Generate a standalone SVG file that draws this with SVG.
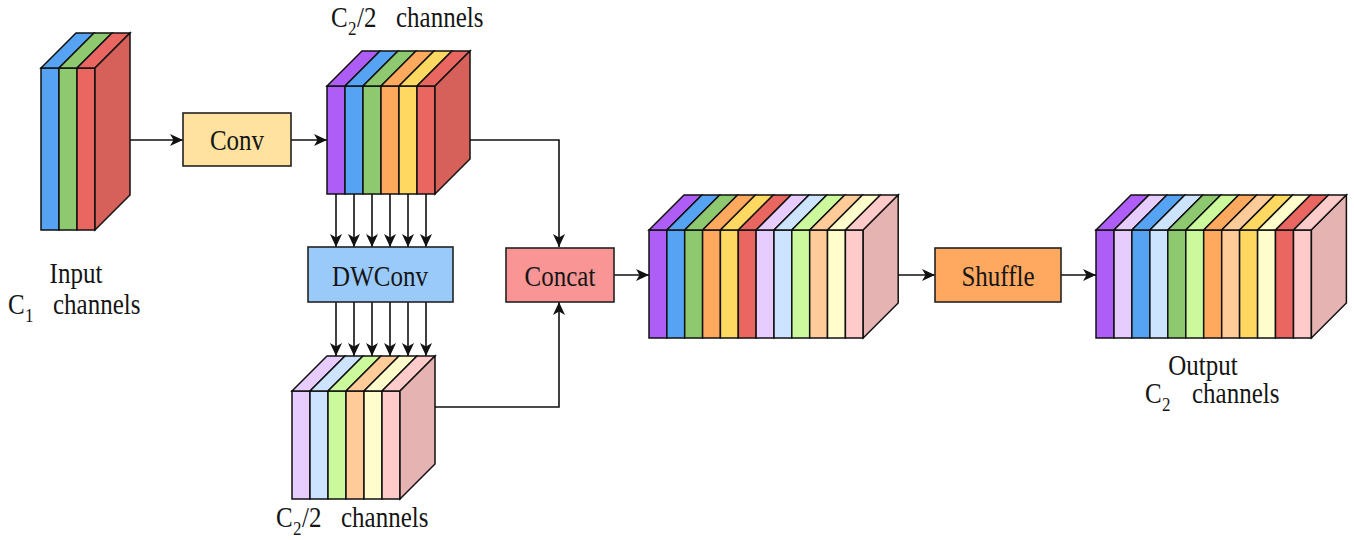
<svg xmlns="http://www.w3.org/2000/svg" width="1354" height="540" viewBox="0 0 1354 540">
  <defs>
    <style>
      .edge { stroke: #111; stroke-width: 1.6; fill: none; }
      .cube polygon, .cube rect { stroke: #111; stroke-width: 1.5; stroke-linejoin: miter; }
      .box { stroke: #222; stroke-width: 1.6; }
      text { font-family: 'Liberation Serif', 'Times New Roman', Times, serif; font-size: 25px; fill: #151515; }
      .sub { font-size: 17px; }
      .pu { fill: #AE5DF6; } .bl { fill: #56A3F3; } .gr { fill: #8FC96F; }
      .or { fill: #FFA95E; } .ye { fill: #FFD862; } .re { fill: #EA6661; }
      .rs { fill: #D6605A; }
      .lpu { fill: #E6CCFF; } .lbu { fill: #CCE4FF; } .lgr { fill: #CBF99B; }
      .lor { fill: #FFCB98; } .lye { fill: #FFFDCC; } .lpk { fill: #FFCACA; }
      .ps { fill: #E5B4B2; }
    </style>
    <marker id="arrow" viewBox="0 0 13 12" refX="13" refY="6" markerWidth="13" markerHeight="12" orient="auto" markerUnits="userSpaceOnUse">
      <path d="M0,0 L13,6 L0,12 L3.5,6 z" fill="#111"/>
    </marker>
  </defs>

  <rect width="1354" height="540" fill="#fff"/>

  <!-- connectors -->
  <g id="connectors" class="edge" marker-end="url(#arrow)">
    <path d="M130,140 H183"/>
    <path d="M291,140 H327"/>
    <path d="M470,140 H559 V247"/>
    <path d="M435,407 H559 V302"/>
    <path d="M614,275 H649"/>
    <path d="M898,275 H935"/>
    <path d="M1061,275 H1096"/>
    <path d="M336,194 V247"/>
    <path d="M354,194 V247"/>
    <path d="M372,194 V247"/>
    <path d="M390,194 V247"/>
    <path d="M408,194 V247"/>
    <path d="M426,194 V247"/>
    <path d="M336,302 V356"/>
    <path d="M354,302 V356"/>
    <path d="M372,302 V356"/>
    <path d="M390,302 V356"/>
    <path d="M408,302 V356"/>
    <path d="M426,302 V356"/>
  </g>

  <!-- input tensor: C1 channels -->
  <g id="input" class="cube">
    <rect class="bl" x="41" y="68" width="18" height="162"/>
    <rect class="gr" x="59" y="68" width="18" height="162"/>
    <rect class="re" x="77" y="68" width="18" height="162"/>
    <polygon class="bl" points="41,68 59,68 94,33 76,33"/>
    <polygon class="gr" points="59,68 77,68 112,33 94,33"/>
    <polygon class="re" points="77,68 95,68 130,33 112,33"/>
    <polygon class="rs" points="95,68 130,33 130,195 95,230"/>
    <text text-anchor="middle" transform="translate(76,283) scale(1,1.15)">Input</text>
    <text transform="translate(0,314) scale(1,1.15)"><tspan x="8">C</tspan><tspan class="sub" x="25" dy="7">1</tspan><tspan x="53" dy="-7">channels</tspan></text>
  </g>

  <!-- Conv -->
  <g id="conv">
    <rect class="box" x="183" y="113" width="108" height="53" fill="#FFE29F"/>
    <text text-anchor="middle" transform="translate(237,150) scale(1,1.15)">Conv</text>
  </g>

  <!-- first half: C2/2 channels -->
  <g id="half-a" class="cube">
    <rect class="pu" x="327" y="86" width="18" height="108"/>
    <rect class="bl" x="345" y="86" width="18" height="108"/>
    <rect class="gr" x="363" y="86" width="18" height="108"/>
    <rect class="or" x="381" y="86" width="18" height="108"/>
    <rect class="ye" x="399" y="86" width="18" height="108"/>
    <rect class="re" x="417" y="86" width="18" height="108"/>
    <polygon class="pu" points="327,86 345,86 380,51 362,51"/>
    <polygon class="bl" points="345,86 363,86 398,51 380,51"/>
    <polygon class="gr" points="363,86 381,86 416,51 398,51"/>
    <polygon class="or" points="381,86 399,86 434,51 416,51"/>
    <polygon class="ye" points="399,86 417,86 452,51 434,51"/>
    <polygon class="re" points="417,86 435,86 470,51 452,51"/>
    <polygon class="rs" points="435,86 470,51 470,159 435,194"/>
    <text transform="translate(0,27) scale(1,1.15)"><tspan x="331">C</tspan><tspan class="sub" x="348" dy="7">2</tspan><tspan x="357" dy="-7">/2</tspan><tspan x="396">channels</tspan></text>
  </g>

  <!-- DWConv -->
  <g id="dwconv">
    <rect class="box" x="308" y="247" width="145" height="55" fill="#99CAFA"/>
    <text text-anchor="middle" transform="translate(380,286) scale(1,1.15)">DWConv</text>
  </g>

  <!-- second half: C2/2 channels -->
  <g id="half-b" class="cube">
    <rect class="lpu" x="292" y="391" width="18" height="108"/>
    <rect class="lbu" x="310" y="391" width="18" height="108"/>
    <rect class="lgr" x="328" y="391" width="18" height="108"/>
    <rect class="lor" x="346" y="391" width="18" height="108"/>
    <rect class="lye" x="364" y="391" width="18" height="108"/>
    <rect class="lpk" x="382" y="391" width="18" height="108"/>
    <polygon class="lpu" points="292,391 310,391 345,356 327,356"/>
    <polygon class="lbu" points="310,391 328,391 363,356 345,356"/>
    <polygon class="lgr" points="328,391 346,391 381,356 363,356"/>
    <polygon class="lor" points="346,391 364,391 399,356 381,356"/>
    <polygon class="lye" points="364,391 382,391 417,356 399,356"/>
    <polygon class="lpk" points="382,391 400,391 435,356 417,356"/>
    <polygon class="ps" points="400,391 435,356 435,464 400,499"/>
    <text transform="translate(0,527) scale(1,1.15)"><tspan x="276">C</tspan><tspan class="sub" x="293" dy="7">2</tspan><tspan x="302" dy="-7">/2</tspan><tspan x="341">channels</tspan></text>
  </g>

  <!-- Concat -->
  <g id="concat">
    <rect class="box" x="506" y="248" width="108" height="54" fill="#F99595"/>
    <text text-anchor="middle" transform="translate(560,286) scale(1,1.15)">Concat</text>
  </g>

  <!-- concatenated tensor -->
  <g id="concatenated" class="cube">
    <rect class="pu" x="649" y="230" width="17.9" height="108"/>
    <rect class="bl" x="666.9" y="230" width="17.8" height="108"/>
    <rect class="gr" x="684.7" y="230" width="17.9" height="108"/>
    <rect class="or" x="702.6" y="230" width="17.8" height="108"/>
    <rect class="ye" x="720.4" y="230" width="17.9" height="108"/>
    <rect class="re" x="738.3" y="230" width="17.8" height="108"/>
    <rect class="lpu" x="756.1" y="230" width="17.9" height="108"/>
    <rect class="lbu" x="774" y="230" width="17.8" height="108"/>
    <rect class="lgr" x="791.8" y="230" width="17.9" height="108"/>
    <rect class="lor" x="809.7" y="230" width="17.8" height="108"/>
    <rect class="lye" x="827.5" y="230" width="17.9" height="108"/>
    <rect class="lpk" x="845.4" y="230" width="17.8" height="108"/>
    <polygon class="pu" points="649,230 666.9,230 701.9,195 684,195"/>
    <polygon class="bl" points="666.9,230 684.7,230 719.7,195 701.9,195"/>
    <polygon class="gr" points="684.7,230 702.6,230 737.6,195 719.7,195"/>
    <polygon class="or" points="702.6,230 720.4,230 755.4,195 737.6,195"/>
    <polygon class="ye" points="720.4,230 738.3,230 773.3,195 755.4,195"/>
    <polygon class="re" points="738.3,230 756.1,230 791.1,195 773.3,195"/>
    <polygon class="lpu" points="756.1,230 774,230 809,195 791.1,195"/>
    <polygon class="lbu" points="774,230 791.8,230 826.8,195 809,195"/>
    <polygon class="lgr" points="791.8,230 809.7,230 844.7,195 826.8,195"/>
    <polygon class="lor" points="809.7,230 827.5,230 862.5,195 844.7,195"/>
    <polygon class="lye" points="827.5,230 845.4,230 880.4,195 862.5,195"/>
    <polygon class="lpk" points="845.4,230 863.2,230 898.2,195 880.4,195"/>
    <polygon class="ps" points="863.2,230 898.2,195 898.2,303 863.2,338"/>
  </g>

  <!-- Shuffle -->
  <g id="shuffle">
    <rect class="box" x="935" y="248" width="126" height="54" fill="#FFA860"/>
    <text text-anchor="middle" transform="translate(998,286) scale(1,1.15)">Shuffle</text>
  </g>

  <!-- output tensor: C2 channels -->
  <g id="output" class="cube">
    <rect class="pu" x="1096" y="230" width="18" height="108"/>
    <rect class="lpu" x="1114" y="230" width="17.9" height="108"/>
    <rect class="bl" x="1131.9" y="230" width="18" height="108"/>
    <rect class="lbu" x="1149.9" y="230" width="17.9" height="108"/>
    <rect class="gr" x="1167.8" y="230" width="18" height="108"/>
    <rect class="lgr" x="1185.8" y="230" width="17.9" height="108"/>
    <rect class="or" x="1203.7" y="230" width="18" height="108"/>
    <rect class="lor" x="1221.7" y="230" width="17.9" height="108"/>
    <rect class="ye" x="1239.6" y="230" width="18" height="108"/>
    <rect class="lye" x="1257.6" y="230" width="17.9" height="108"/>
    <rect class="re" x="1275.5" y="230" width="18" height="108"/>
    <rect class="lpk" x="1293.5" y="230" width="17.9" height="108"/>
    <polygon class="pu" points="1096,230 1114,230 1149,195 1131,195"/>
    <polygon class="lpu" points="1114,230 1131.9,230 1166.9,195 1149,195"/>
    <polygon class="bl" points="1131.9,230 1149.9,230 1184.9,195 1166.9,195"/>
    <polygon class="lbu" points="1149.9,230 1167.8,230 1202.8,195 1184.9,195"/>
    <polygon class="gr" points="1167.8,230 1185.8,230 1220.8,195 1202.8,195"/>
    <polygon class="lgr" points="1185.8,230 1203.7,230 1238.7,195 1220.8,195"/>
    <polygon class="or" points="1203.7,230 1221.7,230 1256.7,195 1238.7,195"/>
    <polygon class="lor" points="1221.7,230 1239.6,230 1274.6,195 1256.7,195"/>
    <polygon class="ye" points="1239.6,230 1257.6,230 1292.6,195 1274.6,195"/>
    <polygon class="lye" points="1257.6,230 1275.5,230 1310.5,195 1292.6,195"/>
    <polygon class="re" points="1275.5,230 1293.5,230 1328.5,195 1310.5,195"/>
    <polygon class="lpk" points="1293.5,230 1311.4,230 1346.4,195 1328.5,195"/>
    <polygon class="ps" points="1311.4,230 1346.4,195 1346.4,303 1311.4,338"/>
    <text text-anchor="middle" transform="translate(1203,375) scale(1,1.15)">Output</text>
    <text transform="translate(0,403) scale(1,1.15)"><tspan x="1145">C</tspan><tspan class="sub" x="1162" dy="7">2</tspan><tspan x="1192" dy="-7">channels</tspan></text>
  </g>
</svg>
